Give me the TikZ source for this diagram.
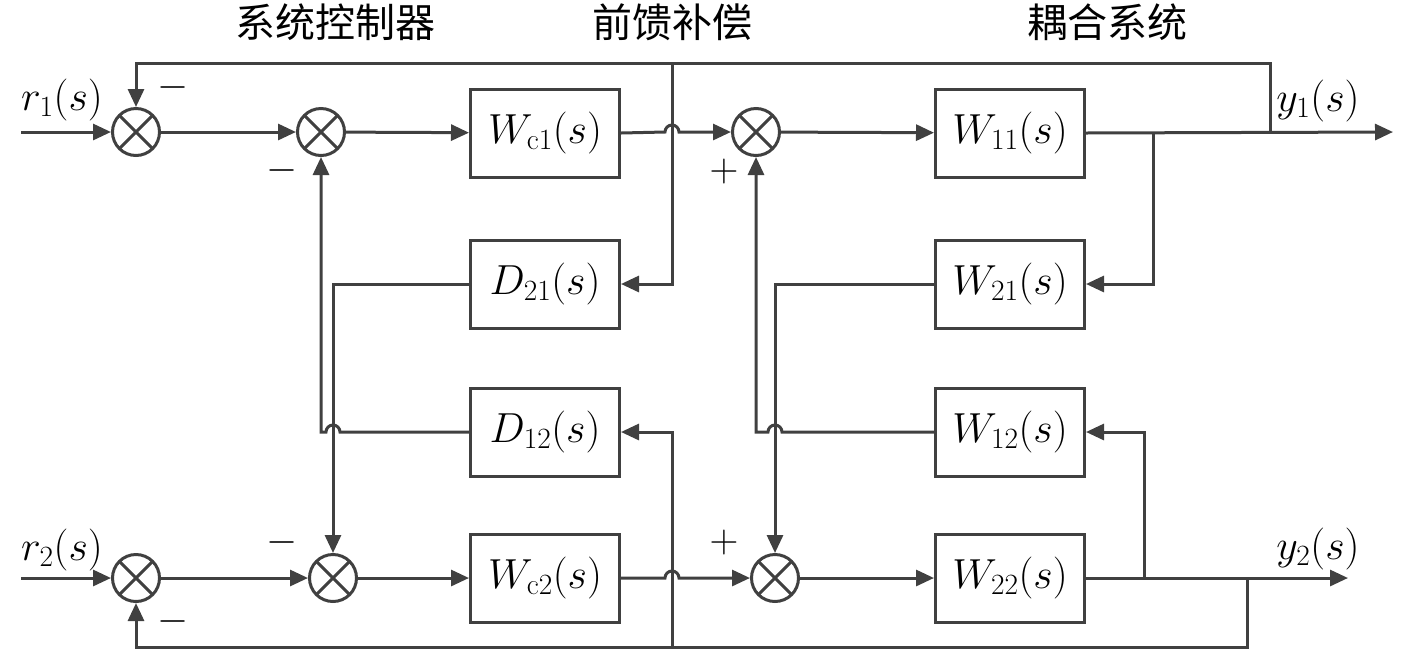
\documentclass[tikz,border=0pt]{standalone}
\usepackage{fix-cm}
\usepackage{fontspec}
\newfontfamily\cjk{Noto Sans CJK SC}
\usepackage{tikz}
\usetikzlibrary{arrows.meta}
\definecolor{lgray}{HTML}{404040}
\newcommand{\tfun}[2]{$#1_{\mathrm{#2}}(s)$}

\begin{document}
\begin{tikzpicture}[x=1pt, y=1pt, color=lgray, line width=3pt,
  every node/.style={text=black},
  blk/.style={draw, minimum width=149pt, minimum height=88pt, font=\fontsize{42}{48}\selectfont},
  sumnode/.style={draw, circle, minimum size=47pt, inner sep=0pt,
    path picture={\draw (path picture bounding box.north west) -- (path picture bounding box.south east)
      (path picture bounding box.north east) -- (path picture bounding box.south west);}},
  arr/.style={-{Triangle[length=18pt,width=16pt]}},
  sgn/.style={font=\fontsize{40}{44}\selectfont},
  lbl/.style={font=\fontsize{42}{48}\selectfont},
  ttl/.style={font=\cjk\fontsize{40}{46}\selectfont}]
\useasboundingbox (0,0) rectangle (1417,-649);

\node[ttl] (t1) at (335,-22) {系统控制器};
\node[ttl] (t2) at (672,-22) {前馈补偿};
\node[ttl] (t3) at (1107,-22) {耦合系统};

\node[sumnode] (s11) at (136,-132) {};
\node[sumnode] (s12) at (321,-132) {};
\node[sumnode] (s13) at (756,-132) {};
\node[sumnode] (s21) at (136,-578) {};
\node[sumnode] (s22) at (333,-578) {};
\node[sumnode] (s23) at (775,-578) {};

\node[blk] (wc1) at (545,-133) {\tfun{W}{c1}};
\node[blk] (d21) at (545,-284) {\tfun{D}{21}};
\node[blk] (d12) at (545,-432) {\tfun{D}{12}};
\node[blk] (wc2) at (545,-578) {\tfun{W}{c2}};
\node[blk] (w11) at (1010,-133) {\tfun{W}{11}};
\node[blk] (w21) at (1010,-284) {\tfun{W}{21}};
\node[blk] (w12) at (1010,-432) {\tfun{W}{12}};
\node[blk] (w22) at (1010,-578) {\tfun{W}{22}};

\coordinate (in1) at (21,-132);
\coordinate (in2) at (21,-578);
\coordinate (out1) at (1393,-132);
\coordinate (out2) at (1348,-578);
\coordinate (br1) at (1153,-132);
\coordinate (br2) at (1144,-578);
\coordinate (fb1) at (1270,-132);
\coordinate (fb2) at (1247,-578);
\coordinate (ff1) at (672,-63);
\coordinate (ff2) at (672,-647);

\node[lbl] (r1) at (62,-100) {\tfun{r}{1}};
\node[lbl] (r2) at (62,-550) {\tfun{r}{2}};
\node[lbl] (y1) at (1318,-101) {\tfun{y}{1}};
\node[lbl] (y2) at (1318,-549) {\tfun{y}{2}};

\node[sgn] (m1) at (173,-87) {$-$};
\node[sgn] (m2) at (282,-170) {$-$};
\node[sgn] (p1) at (724,-171) {$+$};
\node[sgn] (m3) at (173,-621) {$-$};
\node[sgn] (m4) at (282,-542) {$-$};
\node[sgn] (p2) at (724,-542) {$+$};

\draw[arr] (in1) -- (s11);
\draw[arr] (s11) -- (s12);
\draw[arr] (s12) -- (wc1);
\draw[arr] (wc1.east) -- (665,-132) arc[start angle=180, end angle=0, radius=7] -- (s13.west);
\draw[arr] (s13) -- (w11);
\draw[arr] (w11.east) -- (out1);
\draw[arr] (br1) |- (w21.east);
\draw[arr] (fb1) -- (ff1 -| fb1) -| (s11.north);
\draw[arr] (ff1) |- (d21.east);

\draw[arr] (in2) -- (s21);
\draw[arr] (s21) -- (s22);
\draw[arr] (s22) -- (wc2);
\draw[arr] (wc2.east) -- (665,-578) arc[start angle=180, end angle=0, radius=7] -- (s23.west);
\draw[arr] (s23) -- (w22);
\draw[arr] (w22.east) -- (out2);
\draw[arr] (br2) |- (w12.east);
\draw[arr] (fb2) -- (ff2 -| fb2) -| (s21.south);
\draw[arr] (ff2) |- (d12.east);

\draw[arr] (d21.west) -| (s22.north);
\draw[arr] (d12.west) -- (340,-432) arc[start angle=0, end angle=180, radius=7] -- (s12.south |- d12.west) -- (s12.south);
\draw[arr] (w21.west) -| (s23.north);
\draw[arr] (w12.west) -- (782,-432) arc[start angle=0, end angle=180, radius=7] -- (s13.south |- w12.west) -- (s13.south);
\end{tikzpicture}
\end{document}
